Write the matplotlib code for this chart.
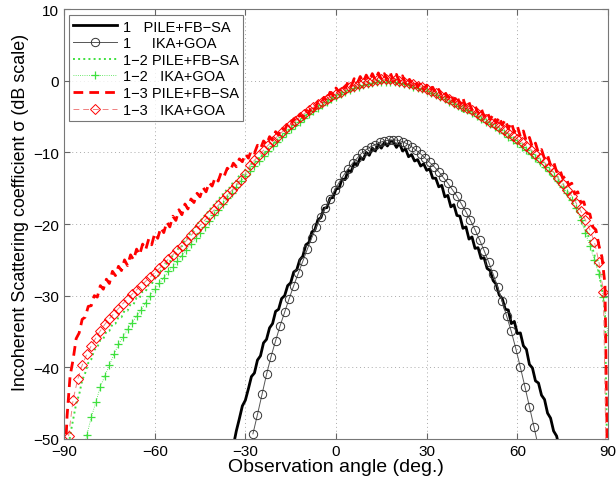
import numpy as np
from matplotlib import pyplot as plt

plt.rcParams['font.family'] = ['Liberation Sans', 'DejaVu Sans']

# angle grids (deg.)
ang_1deg = np.arange(-90, 91, 1)
ang_black = np.arange(-34, 75, 1)
ang_circ = np.arange(-27.5, 67.1, 1.5)
ang_diam = np.arange(-88.5, 90.1, 1.5)
ang_plus = np.arange(-84, 90.1, 1.5)

# 1  PILE+FB-SA
pile_1 = [
    -51.0, -48.9, -47.2, -45.4, -44.6, -43.0, -41.3, -40.8, -39.0, -38.4,
    -36.6, -36.1, -34.5, -33.9, -32.2, -31.9, -30.4, -30.0, -28.6, -28.2,
    -26.7, -26.4, -25.0, -24.5, -22.9, -22.6, -21.1, -20.8, -19.4, -19.1,
    -17.8, -17.7, -16.4, -16.3, -15.1, -15.0, -13.7, -13.8, -12.5, -12.7,
    -11.5, -11.8, -10.7, -11.0, -10.0, -10.4, -9.4, -9.8, -8.9, -9.4,
    -8.6, -9.1, -8.4, -8.5, -9.3, -8.7, -9.8, -9.5, -10.6, -10.3,
    -11.2, -11.0, -11.9, -11.6, -12.5, -12.3, -13.6, -13.6, -14.8, -14.6,
    -16.2, -16.0, -17.6, -17.3, -18.8, -18.9, -20.6, -20.4, -22.1, -21.8,
    -23.4, -23.3, -24.8, -24.7, -26.2, -26.5, -27.9, -28.4, -29.9, -30.4,
    -31.9, -32.0, -33.9, -33.6, -35.3, -35.2, -37.0, -37.5, -39.6, -40.1,
    -41.9, -42.2, -43.9, -44.5, -46.4, -47.1, -48.9, -49.6, -51.5,
]

# 1  IKA+GOA
ika_1 = [
    -49.3, -46.6, -43.8, -41.0, -38.5, -36.3, -34.2, -32.3, -30.4, -28.6,
    -26.9, -25.2, -23.5, -21.9, -20.4, -19.0, -17.7, -16.5, -15.3, -14.2,
    -13.2, -12.3, -11.5, -10.8, -10.1, -9.6, -9.2, -8.9, -8.6, -8.4,
    -8.3, -8.25, -8.3, -8.5, -8.8, -9.2, -9.7, -10.2, -10.8, -11.4,
    -12.0, -12.7, -13.5, -14.3, -15.2, -16.1, -17.2, -18.3, -19.5, -20.8,
    -22.2, -23.7, -25.3, -27.0, -28.8, -30.8, -32.9, -35.0, -37.4, -40.0,
    -42.7, -45.5, -48.3, -51.2,
]

# 1-2  PILE+FB-SA
pile_12 = [
    -58.0, -53.0, -49.5, -47.3, -45.1, -43.8, -41.8, -40.8, -39.4, -38.9,
    -37.6, -37.2, -36.2, -36.0, -35.0, -34.9, -34.0, -33.9, -33.0, -33.0,
    -32.1, -32.1, -31.2, -31.2, -30.3, -30.3, -29.4, -29.4, -28.5, -28.4,
    -27.5, -27.4, -26.5, -26.4, -25.4, -25.3, -24.3, -24.2, -23.2, -23.1,
    -22.1, -22.0, -21.0, -20.9, -19.9, -19.8, -18.9, -18.8, -17.9, -17.8,
    -16.9, -16.8, -15.9, -15.8, -15.0, -14.9, -14.1, -14.0, -13.2, -13.2,
    -12.4, -12.4, -11.6, -11.6, -10.8, -10.8, -10.0, -10.0, -9.2, -9.2,
    -8.4, -8.4, -7.7, -7.7, -7.0, -7.0, -6.3, -6.3, -5.6, -5.6,
    -4.9, -4.9, -4.2, -4.3, -3.6, -3.6, -3.0, -3.0, -2.5, -2.4,
    -2.0, -1.9, -1.6, -1.5, -1.2, -1.1, -0.8, -0.8, -0.5, -0.5,
    -0.3, -0.3, -0.1, -0.2, 0.0, -0.1, 0.1, -0.1, 0.1, -0.1,
    -0.1, -0.2, -0.3, -0.4, -0.5, -0.6, -0.7, -0.8, -0.9, -1.1,
    -1.2, -1.4, -1.6, -1.8, -2.0, -2.2, -2.4, -2.6, -2.8, -3.1,
    -3.3, -3.5, -4.6, -3.8, -4.1, -4.4, -4.6, -4.9, -5.2, -5.4,
    -5.7, -6.0, -6.2, -6.5, -6.7, -6.9, -7.2, -7.5, -7.9, -8.2,
    -8.6, -9.0, -9.4, -9.8, -10.2, -10.6, -11.0, -11.4, -11.8, -12.2,
    -12.6, -13.1, -13.6, -14.1, -14.6, -15.1, -15.7, -16.3, -16.9, -17.6,
    -18.4, -19.2, -20.1, -21.1, -22.3, -23.6, -25.0, -26.8, -29.0, -32.5,
    -60.0,
]

# 1-2  IKA+GOA
ika_12 = [
    -52.5, -49.5, -47.0, -44.9, -42.7, -41.2, -39.7, -38.2, -36.8, -35.8,
    -34.7, -33.8, -32.9, -32.0, -31.0, -30.0, -29.1, -28.3, -27.5, -26.6,
    -26.0, -25.2, -24.4, -23.6, -22.8, -22.0, -21.2, -20.4, -19.6, -18.8,
    -18.0, -17.2, -16.4, -15.6, -14.8, -14.0, -13.3, -12.6, -11.9, -11.2,
    -10.5, -9.8, -9.1, -8.5, -7.9, -7.3, -6.7, -6.2, -5.7, -5.2,
    -4.7, -4.2, -3.8, -3.4, -3.0, -2.6, -2.2, -1.9, -1.6, -1.3,
    -1.0, -0.8, -0.6, -0.4, -0.3, -0.2, -0.1, -0.1, -0.1, -0.2,
    -0.3, -0.4, -0.6, -0.8, -1.0, -1.2, -1.4, -1.7, -2.0, -2.3,
    -2.6, -2.9, -3.2, -3.5, -3.8, -4.1, -4.5, -4.9, -5.3, -5.7,
    -6.1, -6.5, -6.9, -7.3, -7.8, -8.2, -8.7, -9.2, -9.7, -10.2,
    -10.8, -11.4, -12.0, -12.6, -13.3, -14.0, -14.8, -15.6, -16.6, -17.8,
    -19.4, -21.2, -23.1, -25.0, -27.0, -30.2, -35.5,
]

# 1-3  PILE+FB-SA
pile_13 = [
    -56.0, -46.8, -41.2, -38.9, -36.0, -35.2, -33.3, -33.0, -31.5, -31.4,
    -30.0, -30.2, -28.6, -29.1, -27.7, -28.3, -26.6, -27.2, -25.9, -26.5,
    -25.0, -25.8, -24.3, -25.0, -23.5, -24.3, -22.8, -23.6, -22.1, -22.9,
    -21.3, -22.0, -20.5, -21.2, -19.7, -20.4, -18.9, -19.5, -18.0, -18.7,
    -17.2, -17.9, -16.5, -17.0, -15.7, -16.2, -14.9, -15.5, -14.2, -14.7,
    -13.5, -14.0, -12.8, -13.3, -12.2, -12.6, -11.5, -12.0, -10.9, -11.3,
    -10.2, -10.8, -9.7, -10.1, -9.0, -9.5, -8.4, -8.9, -7.8, -8.3,
    -7.1, -7.6, -6.5, -6.9, -5.9, -6.3, -5.3, -5.7, -4.7, -5.1,
    -4.0, -4.5, -3.4, -3.9, -2.9, -3.3, -2.3, -2.8, -1.6, -2.1,
    -1.0, -1.6, -0.6, -1.1, -0.1, -0.8, 0.3, -0.4, 0.6, -0.2,
    0.8, 0.0, 1.0, 0.1, 1.1, 0.2, 1.0, 0.1, 1.1, -0.1,
    0.9, -0.2, 0.7, -0.4, 0.4, -0.6, 0.1, -0.9, -0.2, -1.2,
    -0.6, -1.5, -0.9, -1.8, -1.2, -2.2, -1.5, -2.5, -1.8, -2.9,
    -2.0, -3.4, -2.4, -3.8, -3.0, -4.1, -3.4, -4.6, -3.8, -5.0,
    -4.3, -5.4, -4.7, -5.9, -5.0, -6.2, -5.4, -6.7, -5.8, -7.2,
    -6.3, -7.8, -7.0, -8.5, -7.9, -9.3, -8.7, -10.1, -9.6, -10.9,
    -10.4, -11.8, -11.3, -12.7, -12.3, -13.6, -13.3, -14.6, -14.3, -15.8,
    -15.5, -17.0, -16.9, -18.5, -18.6, -20.4, -20.8, -23.0, -24.6, -28.4,
    -60.0,
]

# 1-3  IKA+GOA
ika_13 = [
    -49.6, -44.5, -41.7, -39.7, -38.2, -37.0, -35.9, -34.9, -34.0, -33.2,
    -32.5, -31.8, -31.1, -30.4, -29.8, -29.2, -28.6, -28.0, -27.4, -26.8,
    -26.2, -25.6, -24.9, -24.3, -23.6, -23.0, -22.3, -21.6, -20.9, -20.2,
    -19.5, -18.8, -18.1, -17.4, -16.7, -16.0, -15.3, -14.6, -13.8, -13.0,
    -11.8, -11.1, -10.4, -9.7, -9.0, -8.4, -7.8, -7.2, -6.6, -6.1,
    -5.6, -5.1, -4.6, -4.1, -3.7, -3.3, -2.9, -2.5, -2.1, -1.8,
    -1.5, -1.2, -0.9, -0.7, -0.5, -0.3, -0.1, 0.0, 0.1, 0.2,
    0.2, 0.2, 0.1, 0.0, -0.1, -0.3, -0.5, -0.7, -0.9, -1.1,
    -1.4, -1.7, -2.0, -2.3, -2.6, -2.9, -3.2, -3.5, -3.8, -4.1,
    -4.5, -4.9, -5.3, -5.7, -6.1, -6.5, -6.9, -7.3, -7.7, -8.1,
    -8.6, -9.1, -9.6, -10.2, -10.8, -11.4, -12.1, -12.8, -13.6, -14.4,
    -15.2, -16.1, -17.1, -18.2, -19.4, -20.8, -22.5, -25.3, -29.5, -70.0,
]

green = '#3ee03e'

fig = plt.figure(figsize=(6.16, 4.85), dpi=100)
ax = fig.add_axes([0.104, 0.093, 0.883, 0.886])

ax.plot(ang_black, pile_1, color='k', lw=2.0, label='1   PILE+FB\u2212SA')
ax.plot(ang_circ, ika_1, color='#555555', lw=0.7, marker='o', ms=6,
        mfc='none', mec='#333333', mew=0.7, label='1     IKA+GOA')
ax.plot(ang_1deg, pile_12, color=green, lw=1.4, ls=':',
        label='1\u22122 PILE+FB\u2212SA')
ax.plot(ang_plus, ika_12, color=green, lw=0.6, ls=':', marker='+', ms=6,
        mew=0.9, label='1\u22122   IKA+GOA')
ax.plot(ang_1deg, pile_13, color='red', lw=2.0, ls=(0, (3.5, 2.2)),
        label='1\u22123 PILE+FB\u2212SA')
ax.plot(ang_diam, ika_13, color='#f08080', lw=0.7, ls=(0, (6, 4)),
        marker='D', ms=5, mfc='none', mec='red', mew=0.7,
        label='1\u22123   IKA+GOA')

ax.set_xlim(-90, 90)
ax.set_ylim(-50, 10)
ax.set_xticks(np.arange(-90, 91, 30))
ax.set_yticks(np.arange(-50, 11, 10))
ax.set_xticklabels([f'{v}'.replace('-', '\u2212') for v in range(-90, 91, 30)])
ax.set_yticklabels([f'{v}'.replace('-', '\u2212') for v in range(-50, 11, 10)])
ax.grid(True, ls=(0, (1, 3)), color='#aaaaaa', lw=0.7)
ax.tick_params(direction='in', top=True, right=True, labelsize=11,
               color='#666666', length=4)
for s in ax.spines.values():
    s.set_color('#777777')

ax.set_xlabel('Observation angle (deg.)', fontsize=14, labelpad=0)
ax.set_ylabel('Incoherent Scattering coefficient \u03c3 (dB scale)',
              fontsize=12.9)
ax.yaxis.set_label_coords(-0.064, 0.53)

leg = ax.legend(loc='upper left', bbox_to_anchor=(0.009, 0.986), fontsize=10.5,
                frameon=True, fancybox=False, borderaxespad=0,
                handlelength=3.0, handletextpad=0.4, labelspacing=0.18,
                borderpad=0.3)
leg.get_frame().set_edgecolor('#555555')
leg.get_frame().set_linewidth(0.8)

fig.savefig('out.png', dpi=100)
